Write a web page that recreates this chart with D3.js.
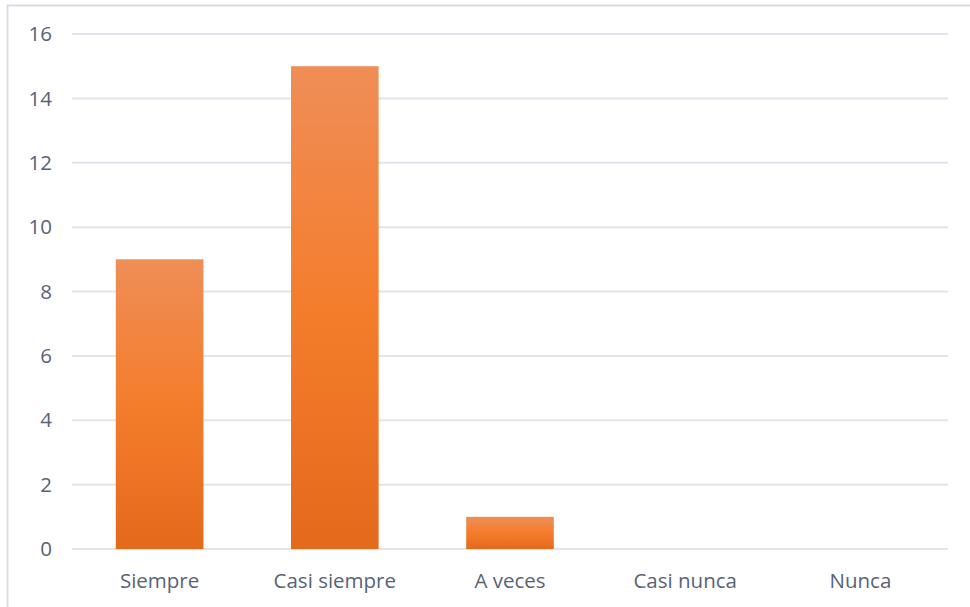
<!DOCTYPE html>
<html>
<head>
<meta charset="utf-8">
<script src="https://cdn.jsdelivr.net/npm/d3@7"></script>
<style>
body { margin: 0; background: #fff; }
svg { display: block; }
</style>
</head>
<body>
<svg id="chart"></svg>
<script>
var categories = ["Siempre", "Casi siempre", "A veces", "Casi nunca", "Nunca"];
var values = [9, 15, 1, 0, 0];
var yTicks = [0, 2, 4, 6, 8, 10, 12, 14, 16];

var w = 970;
var h = 607;
var margin = {
	left: 72,
	right: 22,
	top: 34,
	bottom: 58
};

var svg = d3.select("#chart")
	.attr("width", w)
	.attr("height", h);

// chart frame
svg.append("rect")
	.attr("x", 7.5)
	.attr("y", 5.5)
	.attr("width", w)
	.attr("height", h)
	.attr("fill", "none")
	.attr("stroke", "#d9dde3")
	.attr("stroke-width", 2);

var defs = svg.append("defs");
var grad = defs.append("linearGradient")
	.attr("id", "barGrad")
	.attr("x1", 0).attr("y1", 0)
	.attr("x2", 0).attr("y2", 1);
grad.append("stop").attr("offset", "0%").attr("stop-color", "#ef8e57");
grad.append("stop").attr("offset", "50%").attr("stop-color", "#f47d2c");
grad.append("stop").attr("offset", "100%").attr("stop-color", "#e46a1b");

var xScale = d3.scaleBand()
	.domain(categories)
	.range([margin.left, w - margin.right])
	.paddingInner(0.5)
	.paddingOuter(0.25);

var yScale = d3.scaleLinear()
	.domain([0, 16])
	.range([h - margin.bottom, margin.top]);

// gridlines
svg.append("g")
	.selectAll("line")
	.data(yTicks)
	.enter()
	.append("line")
	.attr("x1", margin.left)
	.attr("x2", w - margin.right)
	.attr("y1", function (d) { return yScale(d); })
	.attr("y2", function (d) { return yScale(d); })
	.attr("stroke", "#e1e4ea")
	.attr("stroke-width", 2);

// y labels
svg.append("g")
	.selectAll("text")
	.data(yTicks)
	.enter()
	.append("text")
	.attr("x", 52)
	.attr("y", function (d) { return yScale(d); })
	.attr("dy", "0.35em")
	.attr("text-anchor", "end")
	.attr("font-family", "'Open Sans', sans-serif")
	.attr("font-size", 20.5)
	.attr("fill", "#586377")
	.text(function (d) { return d; });

// bars
svg.append("g")
	.selectAll("rect")
	.data(values)
	.enter()
	.append("rect")
	.attr("x", function (d, i) { return xScale(categories[i]); })
	.attr("y", function (d) { return yScale(d); })
	.attr("width", xScale.bandwidth())
	.attr("height", function (d) { return yScale(0) - yScale(d); })
	.attr("fill", "url(#barGrad)");

// x labels
svg.append("g")
	.selectAll("text")
	.data(categories)
	.enter()
	.append("text")
	.attr("x", function (d) { return xScale(d) + xScale.bandwidth() / 2; })
	.attr("y", 588)
	.attr("text-anchor", "middle")
	.attr("font-family", "'Open Sans', sans-serif")
	.attr("font-size", 20.5)
	.attr("fill", "#586377")
	.text(function (d) { return d; });
</script>
</body>
</html>
